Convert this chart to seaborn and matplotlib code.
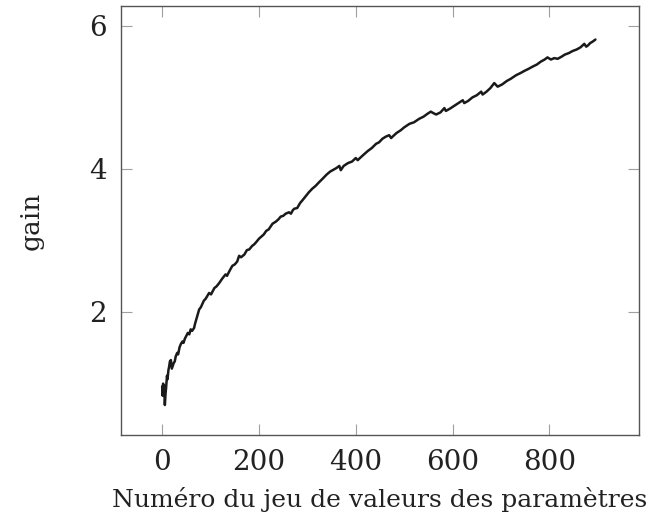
import numpy as np
import pandas as pd
import matplotlib
matplotlib.use("Agg")
import matplotlib.pyplot as plt
import seaborn as sns

# values
param_set = [0, 1, 2, 3, 4, 5.6, 7, 8, 10, 11, 13, 14.5, 16, 18, 20, 21, 24, 26, 28,
             31, 33, 36, 39, 42, 44, 47, 50, 53, 56, 59, 62, 66, 68, 71, 74, 76.5,
             80, 86, 90, 97, 101, 108, 112, 118, 124, 131, 134, 140, 145, 150, 155,
             159, 163, 170, 175, 180, 186, 190, 194, 200, 205, 210, 215, 220, 228,
             235, 240, 245, 250, 255, 262, 266, 270, 273, 279, 285, 290, 297, 303,
             310, 317, 324, 330, 340, 347, 355, 360, 366, 369, 375, 384, 392, 400,
             404, 407, 415, 425, 433, 442, 448, 455, 462, 469, 473, 476, 484, 493,
             500, 511, 520, 531, 540, 548, 555, 560, 566, 575, 583, 586, 594, 603,
             612, 621, 624, 632, 641, 650, 659, 662, 670, 678, 686, 693, 702, 712,
             720, 731, 740, 748, 757, 765, 774, 782, 790, 796, 803, 810, 817, 825,
             832, 840, 848, 856, 864, 872, 876, 880, 884, 889, 895]
gain = [0.95, 0.82, 0.99, 0.86, 0.96, 0.69, 0.85, 0.92, 1.10, 1.05, 1.18, 1.23, 1.30,
        1.32, 1.20, 1.22, 1.28, 1.30, 1.37, 1.42, 1.40, 1.50, 1.55, 1.58, 1.56,
        1.62, 1.66, 1.70, 1.68, 1.75, 1.73, 1.77, 1.83, 1.90, 1.97, 2.03, 2.06,
        2.15, 2.18, 2.26, 2.24, 2.33, 2.35, 2.40, 2.46, 2.52, 2.50, 2.58, 2.64,
        2.66, 2.70, 2.78, 2.76, 2.80, 2.86, 2.87, 2.92, 2.94, 2.97, 3.02, 3.05,
        3.08, 3.13, 3.15, 3.23, 3.26, 3.29, 3.33, 3.34, 3.37, 3.39, 3.37, 3.42,
        3.44, 3.45, 3.52, 3.56, 3.62, 3.67, 3.72, 3.76, 3.81, 3.85, 3.92, 3.96,
        3.99, 4.01, 4.04, 3.98, 4.04, 4.08, 4.10, 4.15, 4.12, 4.14, 4.19, 4.25,
        4.29, 4.35, 4.37, 4.42, 4.45, 4.47, 4.43, 4.45, 4.50, 4.54, 4.58, 4.63,
        4.65, 4.70, 4.73, 4.77, 4.80, 4.78, 4.76, 4.79, 4.85, 4.81, 4.84, 4.88,
        4.92, 4.96, 4.92, 4.95, 5.00, 5.03, 5.08, 5.04, 5.08, 5.13, 5.20, 5.15,
        5.18, 5.23, 5.26, 5.31, 5.34, 5.37, 5.40, 5.43, 5.46, 5.50, 5.53, 5.56,
        5.53, 5.55, 5.54, 5.57, 5.60, 5.62, 5.65, 5.67, 5.70, 5.75, 5.71, 5.73,
        5.76, 5.78, 5.81]
x_ticks = [0, 200, 400, 600, 800]
y_ticks = [2, 4, 6]

df = pd.DataFrame({"param_set": param_set, "gain": gain})

sns.set_theme(style="ticks")
plt.rcParams["font.family"] = ["DejaVu Serif"]

fig = plt.figure(figsize=(6.58, 5.2), dpi=100)
ax = fig.add_axes([121 / 658, 85 / 520, 518 / 658, 429 / 520])

sns.lineplot(data=df, x="param_set", y="gain", color="#1a1a1a", linewidth=1.8, ax=ax)

ax.set_xlim(-85, 985)
ax.set_ylim(0.27, 6.28)
ax.set_xticks(x_ticks)
ax.set_yticks(y_ticks)
ax.tick_params(direction="in", length=8, width=0.8, color="#a0a0a0",
               top=True, right=True, labelsize=20, pad=10, labelcolor="#222222")
for s in ax.spines.values():
    s.set_color("#555555")
    s.set_linewidth(1.0)

ax.set_xlabel("Numéro du jeu de valeurs des paramètres", fontsize=18, color="#222222", labelpad=8)
ax.set_ylabel("gain", fontsize=19, color="#222222", labelpad=33)

fig.savefig("out.png", dpi=100)
